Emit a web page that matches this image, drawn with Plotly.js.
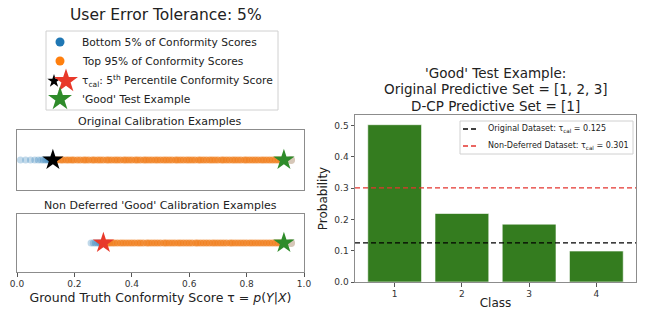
<!DOCTYPE html>
<html>
<head>
<meta charset="utf-8">
<script src="https://cdn.plot.ly/plotly-3.0.1.min.js"></script>
<style>html,body{margin:0;padding:0;background:#fff;}#chart{width:646px;height:310px;}</style>
</head>
<body>
<div id="chart"></div>
<script>
// ---- data ----
const origBottomScores = [0.012, 0.03, 0.047, 0.062, 0.074, 0.084, 0.092, 0.099, 0.105, 0.11, 0.115, 0.119, 0.123];
const origTopScores = [0.132,0.14,0.152,0.16,0.171,0.18,0.19,0.198,0.21,0.22,0.232,0.24,0.25,0.262,0.27,0.281,0.29,0.3,0.312,0.32,0.33,0.341,0.35,0.36,0.372,0.38,0.39,0.4,0.412,0.42,0.43,0.442,0.45,0.46,0.47,0.481,0.49,0.5,0.511,0.52,0.53,0.54,0.552,0.56,0.57,0.58,0.591,0.6,0.61,0.62,0.632,0.64,0.65,0.66,0.671,0.68,0.69,0.7,0.712,0.72,0.73,0.74,0.751,0.76,0.77,0.78,0.792,0.8,0.81,0.82,0.83,0.84,0.851,0.86,0.87,0.88,0.89,0.9,0.91,0.92];
const origTailScores = [0.955];
const ndBottomScores = [0.258, 0.266, 0.273, 0.28, 0.286, 0.291, 0.295, 0.299];
const ndTopScores = [0.306,0.315,0.322,0.331,0.34,0.35,0.361,0.37,0.38,0.39,0.4,0.41,0.421,0.43,0.44,0.452,0.46,0.47,0.48,0.49,0.5,0.512,0.52,0.53,0.54,0.55,0.561,0.57,0.58,0.59,0.6,0.61,0.622,0.63,0.64,0.65,0.66,0.67,0.681,0.69,0.7,0.71,0.72,0.73,0.742,0.75,0.76,0.77,0.78,0.79,0.8,0.811,0.82,0.83,0.84,0.85,0.86,0.87,0.88,0.89,0.9,0.91,0.92];
const ndTailScores = [0.955];
const tauOriginal = 0.125;
const tauNonDeferred = 0.301;
const testScore = 0.93;
const classes = [1, 2, 3, 4];
const classProbs = [0.503, 0.219, 0.185, 0.099];
const xTicks = [0, 0.2, 0.4, 0.6, 0.8, 1.0];
const xTickText = ['0.0', '0.2', '0.4', '0.6', '0.8', '1.0'];
const yTicks = [0, 0.1, 0.2, 0.3, 0.4, 0.5];
const yTickText = ['0.0', '0.1', '0.2', '0.3', '0.4', '0.5'];

// ---- pixel helpers (figure is 646 x 310, zero margins) ----
const W = 646, H = 310;
const px = v => v / W;
const py = v => 1 - v / H;

const BLUE = '#1f77b4', ORANGE = '#ff7f0e', GREEN = '#2e8b2a', RED = '#e8392a', BAR = '#347c1f';
const DASHRED = '#e3342f';
const FONT = 'DejaVu Sans, sans-serif';
const DASH = '5px,3px';

function zeros(a) { return a.map(() => 0); }
function strip(xa, ya, bottom, top, tail, tau, tauColor) {
  return [
    {x: bottom, y: zeros(bottom), xaxis: xa, yaxis: ya, type: 'scatter', mode: 'markers',
     marker: {color: BLUE, size: 7, opacity: 0.28, line: {width: 0}}, showlegend: false},
    {x: top, y: zeros(top), xaxis: xa, yaxis: ya, type: 'scatter', mode: 'markers',
     marker: {color: '#f07f1e', size: 7, opacity: 0.68, line: {width: 0}}, showlegend: false},
    {x: tail, y: zeros(tail), xaxis: xa, yaxis: ya, type: 'scatter', mode: 'markers',
     marker: {color: '#d6c7b8', size: 8, opacity: 1}, showlegend: false},
    {x: [tau], y: [0], xaxis: xa, yaxis: ya, type: 'scatter', mode: 'markers',
     marker: {color: tauColor, size: 16, opacity: 1, symbol: 'star', line: {width: 0}}, showlegend: false},
    {x: [testScore], y: [0], xaxis: xa, yaxis: ya, type: 'scatter', mode: 'markers',
     marker: {color: GREEN, size: 16, opacity: 1, symbol: 'star', line: {width: 0}}, showlegend: false}
  ];
}

const traces = [].concat(
  strip('x', 'y', origBottomScores, origTopScores, origTailScores, tauOriginal, '#000000'),
  strip('x2', 'y2', ndBottomScores, ndTopScores, ndTailScores, tauNonDeferred, RED),
  [{x: classes, y: classProbs, xaxis: 'x3', yaxis: 'y3', type: 'bar', width: 0.8,
    marker: {color: BAR, line: {color: '#ffffff', width: 0.6}}, showlegend: false}],
  // legend glyphs on a pixel overlay axis
  [{x: [60, 60, 54, 66, 60], y: [42, 61, 81, 81, 99], xaxis: 'x4', yaxis: 'y4', type: 'scatter', mode: 'markers',
    marker: {color: [BLUE, ORANGE, '#000000', RED, GREEN], size: [9, 9, 10, 18, 18], opacity: 1,
             symbol: ['circle', 'circle', 'star', 'star', 'star'], line: {width: 0}},
    showlegend: false}]
);

const boxAxis = {showline: true, mirror: true, linecolor: '#8c8c8c', linewidth: 1, zeroline: false, showgrid: false};
const tickFont = {family: FONT, size: 9, color: '#333'};

const layout = {
  width: W, height: H,
  margin: {l: 0, r: 0, t: 0, b: 0, pad: 0},
  paper_bgcolor: '#fff', plot_bgcolor: 'rgba(0,0,0,0)',
  font: {family: FONT, color: '#222'},
  showlegend: false,
  xaxis: Object.assign({}, boxAxis, {anchor: 'y', domain: [px(17), px(304)], range: [0, 1], showticklabels: false, ticks: ''}),
  yaxis: Object.assign({}, boxAxis, {anchor: 'x', domain: [py(190), py(130)], range: [-1, 1], showticklabels: false, ticks: ''}),
  xaxis2: Object.assign({}, boxAxis, {anchor: 'y2', domain: [px(17), px(304)], range: [0, 1], tickmode: 'array', tickvals: xTicks, ticktext: xTickText,
    ticks: 'outside', ticklen: 3.5, tickcolor: '#555', tickfont: tickFont,
    title: {text: 'Ground Truth Conformity Score τ = <i>p</i>(<i>Y</i>|<i>X</i>)', font: {family: FONT, size: 12.5, color: '#222'}, standoff: 4}}),
  yaxis2: Object.assign({}, boxAxis, {anchor: 'x2', domain: [py(272), py(214)], range: [-1, 1], showticklabels: false, ticks: ''}),
  xaxis3: Object.assign({}, boxAxis, {anchor: 'y3', domain: [px(355), px(636)], range: [0.41, 4.59], tickmode: 'array', tickvals: classes, ticktext: classes.map(String),
    ticks: 'outside', ticklen: 3.5, tickcolor: '#555', tickfont: tickFont,
    title: {text: 'Class', font: {family: FONT, size: 12, color: '#222'}, standoff: 2}}),
  yaxis3: Object.assign({}, boxAxis, {anchor: 'x3', domain: [py(282), py(115)], range: [0, 0.534], tickmode: 'array', tickvals: yTicks, ticktext: yTickText,
    ticks: 'outside', ticklen: 3.5, tickcolor: '#555', tickfont: tickFont,
    title: {text: 'Probability', font: {family: FONT, size: 12, color: '#222'}, standoff: 4}}),
  xaxis4: {anchor: 'y4', domain: [0, 1], range: [0, W], visible: false, fixedrange: true},
  yaxis4: {anchor: 'x4', domain: [0, 1], range: [H, 0], visible: false, fixedrange: true},
  shapes: [
    {type: 'rect', xref: 'paper', yref: 'paper', x0: px(46), x1: px(278), y0: py(110), y1: py(31),
     line: {color: '#d0d0d0', width: 1}, fillcolor: 'rgba(255,255,255,0)', layer: 'below'},
    {type: 'line', xref: 'x3 domain', yref: 'y3', x0: 0, x1: 1, y0: tauOriginal, y1: tauOriginal,
     line: {color: '#000', width: 1.3, dash: DASH}},
    {type: 'line', xref: 'x3 domain', yref: 'y3', x0: 0, x1: 1, y0: tauNonDeferred, y1: tauNonDeferred,
     line: {color: DASHRED, width: 1.3, dash: DASH}},
    {type: 'rect', xref: 'paper', yref: 'paper', x0: px(460), x1: px(633), y0: py(154), y1: py(121),
     line: {color: '#d0d0d0', width: 1}, fillcolor: 'rgba(255,255,255,0.85)'},
    {type: 'line', xref: 'paper', yref: 'paper', x0: px(463), x1: px(479), y0: py(129), y1: py(129),
     line: {color: '#000', width: 1.3, dash: DASH}},
    {type: 'line', xref: 'paper', yref: 'paper', x0: px(463), x1: px(479), y0: py(146), y1: py(146),
     line: {color: DASHRED, width: 1.3, dash: DASH}}
  ],
  annotations: [
    {text: 'User Error Tolerance: 5%', xref: 'paper', yref: 'paper', x: px(166), y: py(15),
     showarrow: false, font: {family: FONT, size: 15.5, color: '#222'}, xanchor: 'center', yanchor: 'middle'},
    {text: 'Bottom 5% of Conformity Scores', xref: 'paper', yref: 'paper', x: px(80), y: py(42),
     showarrow: false, font: {family: FONT, size: 10.7, color: '#222'}, xanchor: 'left', yanchor: 'middle'},
    {text: 'Top 95% of Conformity Scores', xref: 'paper', yref: 'paper', x: px(80), y: py(61),
     showarrow: false, font: {family: FONT, size: 10.7, color: '#222'}, xanchor: 'left', yanchor: 'middle'},
    {text: 'τ<sub>cal</sub>: 5<sup>th</sup> Percentile Conformity Score', xref: 'paper', yref: 'paper', x: px(80), y: py(81),
     showarrow: false, font: {family: FONT, size: 10.7, color: '#222'}, xanchor: 'left', yanchor: 'middle'},
    {text: "'Good' Test Example", xref: 'paper', yref: 'paper', x: px(80), y: py(99),
     showarrow: false, font: {family: FONT, size: 10.7, color: '#222'}, xanchor: 'left', yanchor: 'middle'},
    {text: 'Original Calibration Examples', xref: 'paper', yref: 'paper', x: px(160), y: py(121),
     showarrow: false, font: {family: FONT, size: 11, color: '#222'}, xanchor: 'center', yanchor: 'middle'},
    {text: "Non Deferred 'Good' Calibration Examples", xref: 'paper', yref: 'paper', x: px(160), y: py(205),
     showarrow: false, font: {family: FONT, size: 11, color: '#222'}, xanchor: 'center', yanchor: 'middle'},
    {text: "'Good' Test Example:", xref: 'paper', yref: 'paper', x: px(495), y: py(73),
     showarrow: false, font: {family: FONT, size: 13.5, color: '#222'}, xanchor: 'center', yanchor: 'middle'},
    {text: 'Original Predictive Set = [1, 2, 3]', xref: 'paper', yref: 'paper', x: px(495), y: py(89),
     showarrow: false, font: {family: FONT, size: 13.5, color: '#222'}, xanchor: 'center', yanchor: 'middle'},
    {text: 'D-CP Predictive Set = [1]', xref: 'paper', yref: 'paper', x: px(495), y: py(106),
     showarrow: false, font: {family: FONT, size: 13.5, color: '#222'}, xanchor: 'center', yanchor: 'middle'},
    {text: 'Original Dataset: τ<sub>cal</sub> = ' + tauOriginal, xref: 'paper', yref: 'paper', x: px(486), y: py(129),
     showarrow: false, font: {family: FONT, size: 8, color: '#222'}, xanchor: 'left', yanchor: 'middle'},
    {text: 'Non-Deferred Dataset: τ<sub>cal</sub> = ' + tauNonDeferred, xref: 'paper', yref: 'paper', x: px(486), y: py(146),
     showarrow: false, font: {family: FONT, size: 8, color: '#222'}, xanchor: 'left', yanchor: 'middle'}
  ]
};

Plotly.newPlot('chart', traces, layout, {displayModeBar: false, staticPlot: true});
</script>
</body>
</html>
